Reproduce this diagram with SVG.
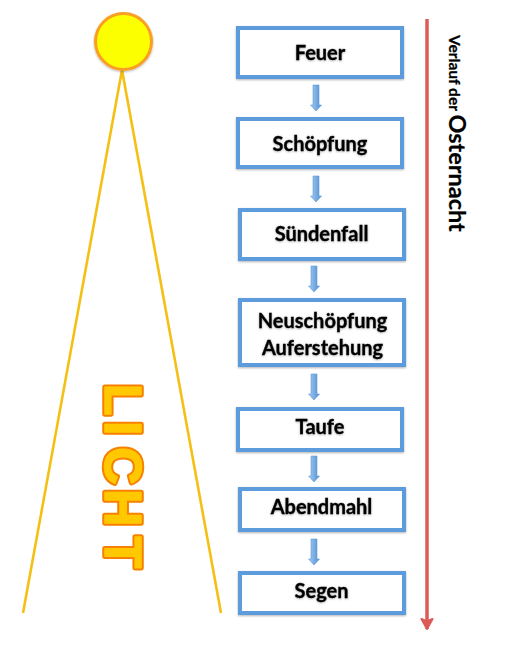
<svg xmlns="http://www.w3.org/2000/svg" width="512" height="666" viewBox="0 0 512 666">
<defs>
<filter id="shadow" x="-20%" y="-20%" width="140%" height="140%"><feDropShadow dx="0" dy="1" stdDeviation="1" flood-color="#000" flood-opacity="0.3"/></filter>
<filter id="textshadow" x="-10%" y="-20%" width="120%" height="140%"><feDropShadow dx="0" dy="0.6" stdDeviation="0.8" flood-color="#000" flood-opacity="0.35"/></filter>
<filter id="soft" x="-15%" y="-15%" width="130%" height="130%"><feGaussianBlur stdDeviation="0.5"/></filter>
<linearGradient id="arrowfill" x1="0" y1="0" x2="1" y2="0"><stop offset="0" stop-color="#a9cbee"/><stop offset="1" stop-color="#4f90d5"/></linearGradient>
<marker id="redhead" markerUnits="userSpaceOnUse" markerWidth="20" markerHeight="20" refX="16" refY="10" orient="auto"><path d="M6 4.500 L16 10 L6 15.500 L8.500 10 Z" fill="#dd5a5a" stroke="#dd5a5a" stroke-width="2" stroke-linejoin="round"/></marker>
<path id="ar" d="M-3 0 H3 V20 H5.500 L0 26 L-5.500 20 H-3 Z"/>
</defs>
<style>
.box{fill:#fff;stroke:#5b9bdc;stroke-width:4;filter:url(#shadow)}
.lbl{font-family:"Lato","Liberation Sans",sans-serif;font-weight:700;font-size:20px;fill:#000;stroke:#000;stroke-width:.3;text-anchor:middle;filter:url(#textshadow)}
.ray{stroke:#f5c015;stroke-width:2.600;fill:none}
.ar{fill:url(#arrowfill);stroke:#5b9bdc;stroke-width:.6}
.lt{font-family:"Liberation Sans",sans-serif;font-weight:700;font-size:52px;stroke-linejoin:round}
</style>
<g id="connectors">
<path class="ray" d="M122 70 L23 613"/>
<path class="ray" d="M122 70 L221 613"/>
<use class="ar" href="#ar" x="316" y="85"/>
<use class="ar" href="#ar" x="316" y="176"/>
<use class="ar" href="#ar" x="314" y="266"/>
<use class="ar" href="#ar" x="314" y="374"/>
<use class="ar" href="#ar" x="314" y="456"/>
<use class="ar" href="#ar" x="314" y="539"/>
<path d="M427 19 V629" stroke="#dd5a5a" stroke-width="3.500" fill="none" marker-end="url(#redhead)"/>
</g>
<g id="sun"><circle cx="123.500" cy="41.500" r="28" fill="#fbff00" stroke="#f9a021" stroke-width="3" filter="url(#shadow)"/></g>
<g id="licht" filter="url(#soft)">
<text class="lt" transform="translate(104.500,0) rotate(90)" x="383.700 421 447 489 536.500" fill="#f88000" stroke="#f88000" stroke-width="5.500">LICHT</text>
<text class="lt" transform="translate(104.500,0) rotate(90)" x="383.700 421 447 489 536.500" fill="#ffc800" stroke="#ffc800" stroke-width="1.500">LICHT</text>
</g>
<g id="feuer"><rect class="box" x="238" y="28" width="164" height="49"/><text class="lbl" x="320" y="60">Feuer</text></g>
<g id="schoepfung"><rect class="box" x="238" y="119" width="164" height="48"/><text class="lbl" x="320" y="151">Schöpfung</text></g>
<g id="suendenfall"><rect class="box" x="240" y="210" width="164" height="49"/><text class="lbl" x="321.500" y="241">Sündenfall</text></g>
<g id="neuschoepfung"><rect class="box" x="240" y="300" width="164" height="65"/><text class="lbl" x="322.500" y="328">Neuschöpfung</text><text class="lbl" x="322.500" y="355">Auferstehung</text></g>
<g id="taufe"><rect class="box" x="238" y="409" width="164" height="41"/><text class="lbl" x="320" y="434">Taufe</text></g>
<g id="abendmahl"><rect class="box" x="240" y="489" width="164" height="41"/><text class="lbl" x="321.500" y="514">Abendmahl</text></g>
<g id="segen"><rect class="box" x="240" y="573" width="164" height="40"/><text class="lbl" x="321.500" y="598">Segen</text></g>
<g id="verlauf"><text transform="translate(449,35) rotate(90)" font-family="Lato, Liberation Sans, sans-serif" font-weight="700" fill="#000" stroke="#000" stroke-width=".25"><tspan font-size="15.500">Verlauf der </tspan><tspan font-size="23.500">Osternacht</tspan></text></g>
</svg>
